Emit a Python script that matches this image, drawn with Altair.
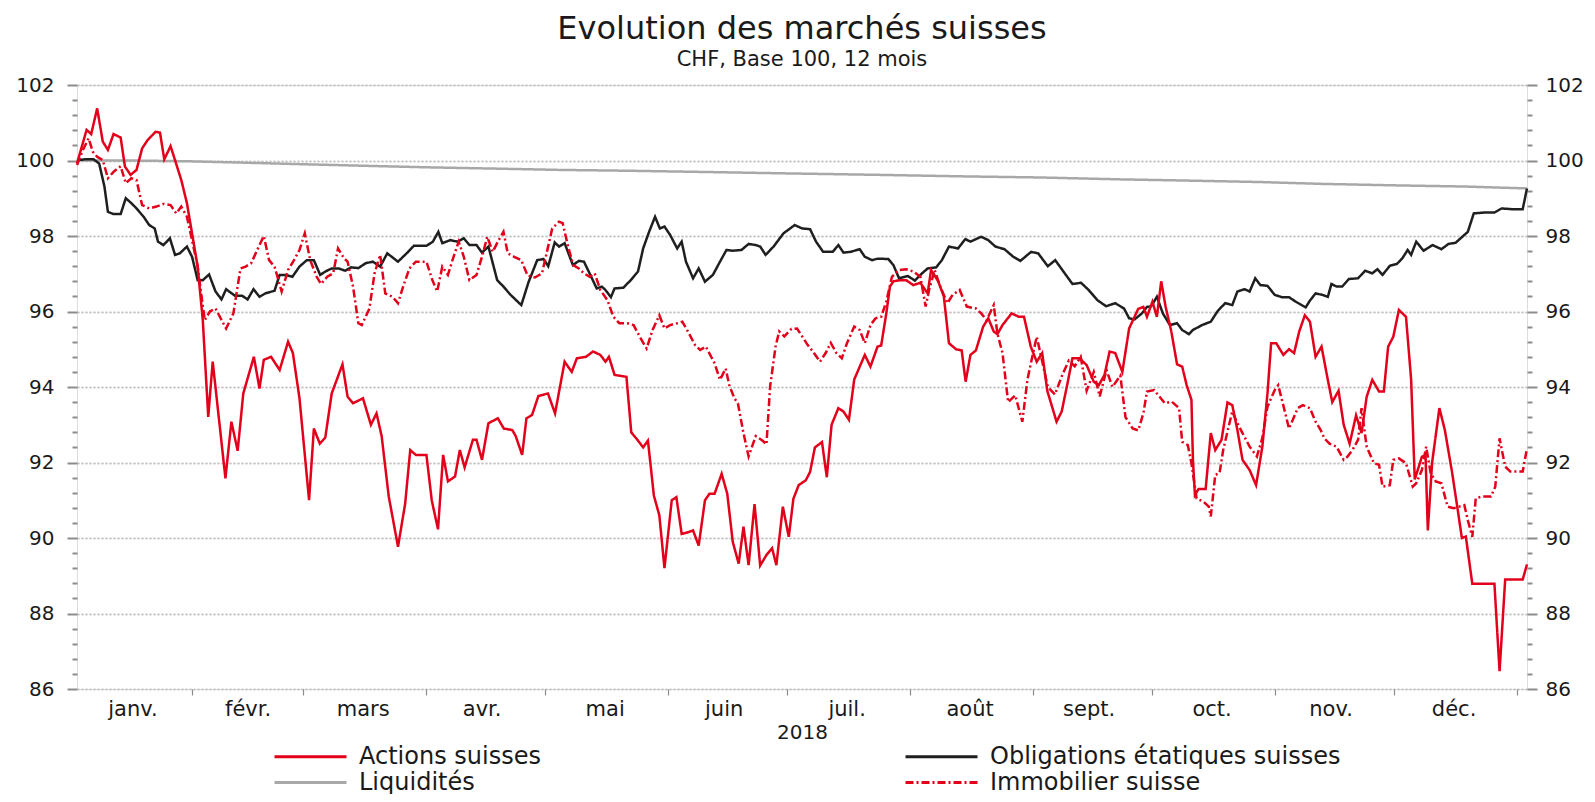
import altair as alt
import pandas as pd

FONT = "DejaVu Sans"
TXT = "#1a1a1a"

series_names = ["Actions suisses", "Obligations étatiques suisses", "Liquidités", "Immobilier suisse"]
series_colors = ["#e2001a", "#1f1f1f", "#a8a8a8", "#e2001a"]
series_dashes = [[1, 0], [1, 0], [1, 0], [8, 3, 2, 3]]
month_labels = ["janv.", "févr.", "mars", "avr.", "mai", "juin", "juil.", "août", "sept.", "oct.", "nov.", "déc."]

# days counted from 1 Jan 2018
act_days = [2.0, 4.4, 5.6, 7.1, 8.5, 9.8, 11.2, 13.0, 14.1, 15.5, 17.0, 18.4, 19.8, 21.8, 22.9, 24.0, 25.6, 26.7,
            28.3, 29.7, 31.0, 32.4, 33.7, 35.1, 36.2, 39.4, 40.9, 42.5, 43.9, 46.6, 48.0, 49.1, 50.9, 53.1, 55.2,
            56.4, 58.1, 60.5, 61.7, 63.2, 64.6, 66.2, 68.9, 70.2, 71.6, 74.1, 76.1, 77.5, 78.8, 80.6, 82.9, 84.7,
            86.0, 87.4, 90.1, 91.4, 93.0, 94.3, 95.5, 97.3, 98.5, 99.7, 101.8, 102.7, 104.1, 105.7, 108.1, 109.6,
            111.7, 112.6, 114.2, 115.3, 116.7, 118.3, 120.7, 122.5, 124.9, 126.7, 128.0, 130.3, 132.1, 133.9,
            135.2, 136.1, 137.5, 140.5, 141.7, 143.4, 144.7, 145.9, 147.4, 148.8, 150.1, 151.9, 153.1, 154.4,
            156.0, 157.3, 158.7, 160.3, 161.4, 162.7, 164.5, 165.9, 167.3, 168.8, 170.0, 171.3, 172.8, 174.2,
            175.8, 177.2, 178.3, 179.9, 181.4, 182.6, 183.9, 185.7, 186.8, 188.0, 189.8, 191.0, 192.2, 193.9,
            195.2, 196.6, 197.9, 200.6, 202.0, 203.8, 204.7, 206.0, 206.9, 207.8, 209.4, 211.0, 212.8, 214.6,
            216.4, 217.3, 219.1, 220.5, 221.8, 223.6, 225.0, 226.0, 227.2, 228.6, 230.4, 231.7, 233.1, 234.0,
            235.3, 237.6, 239.4, 240.7, 242.4, 243.9, 245.3, 246.6, 248.9, 250.2, 251.6, 252.9, 254.7, 256.5,
            258.3, 259.6, 261.0, 262.3, 263.7, 265.5, 267.2, 269.5, 270.8, 271.7, 273.1, 274.2, 275.3, 276.4,
            277.8, 279.3, 280.6, 281.7, 282.9, 283.3, 283.8, 284.7, 286.5, 287.8, 288.9, 290.5, 292.0, 293.2,
            294.5, 295.8, 297.6, 299.2, 300.8, 302.1, 303.0, 304.3, 306.1, 307.5, 308.8, 310.1, 311.5, 312.8,
            314.2, 315.7, 317.3, 318.4, 320.0, 321.3, 322.8, 324.4, 325.8, 327.1, 328.5, 330.2, 331.4, 332.5,
            333.8, 335.2, 337.0, 338.3, 339.2, 341.0, 341.9, 342.5, 343.6, 345.4, 346.8, 348.6, 349.9, 351.1,
            352.1, 353.7, 359.3, 360.6, 362.0, 366.4, 367.5]
act_vals = [99.92, 100.81, 100.70, 101.38, 100.50, 100.28, 100.70, 100.61, 99.84, 99.62, 99.75, 100.32, 100.54,
            100.76, 100.74, 100.03, 100.38, 100.01, 99.48, 98.87, 98.07, 97.19, 95.77, 93.21, 94.67, 91.58, 93.08,
            92.31, 93.83, 94.80, 93.96, 94.72, 94.80, 94.45, 95.20, 94.90, 93.70, 91.00, 92.90, 92.50, 92.66, 93.83,
            94.60, 93.74, 93.57, 93.70, 93.00, 93.30, 92.70, 91.10, 89.77, 90.90, 92.33, 92.20, 92.20, 91.00, 90.23,
            92.20, 91.50, 91.63, 92.33, 91.87, 92.60, 92.60, 92.07, 93.04, 93.17, 92.90, 92.86, 92.70, 92.20, 93.17,
            93.26, 93.76, 93.83, 93.30, 94.67, 94.40, 94.76, 94.80, 94.94, 94.85, 94.67, 94.80, 94.32, 94.27, 92.80,
            92.58, 92.40, 92.58, 91.12, 90.60, 89.20, 91.00, 91.08, 90.11, 90.15, 90.20, 89.80, 91.00, 91.17, 91.17,
            91.70, 91.17, 89.90, 89.32, 90.30, 89.28, 90.90, 89.27, 89.55, 89.73, 89.28, 90.83, 90.03, 91.04, 91.40,
            91.53, 91.75, 92.40, 92.54, 91.61, 93.00, 93.44, 93.35, 93.13, 94.20, 94.85, 94.54, 95.07, 95.10, 95.95,
            96.66, 96.80, 96.83, 96.83, 96.70, 96.76, 96.48, 97.10, 96.80, 96.40, 95.16, 95.00, 94.97, 94.14, 94.85,
            94.97, 95.60, 95.82, 95.47, 95.40, 95.64, 95.95, 95.86, 95.86, 95.07, 94.67, 94.90, 93.90, 93.08, 93.35,
            94.05, 94.76, 94.76, 94.58, 94.14, 94.05, 94.32, 94.94, 94.90, 94.40, 95.55, 96.07, 96.12, 95.86, 96.26,
            95.86, 96.80, 96.12, 95.50, 94.60, 94.54, 94.05, 93.66, 92.07, 91.14, 91.30, 91.30, 92.78, 92.33, 92.60,
            93.59, 93.52, 92.86, 92.07, 91.80, 91.40, 92.42, 93.83, 95.16, 95.16, 94.85, 95.00, 94.90, 95.47, 95.90,
            95.73, 94.80, 95.07, 94.19, 93.60, 93.90, 93.00, 92.50, 93.25, 92.78, 93.74, 94.19, 93.88, 93.88, 95.07,
            95.33, 96.04, 95.86, 94.20, 91.55, 92.15, 92.20, 90.20, 92.00, 93.44, 92.86, 91.76, 90.83, 90.00, 90.04,
            88.79, 88.79, 86.47, 88.90, 88.90, 89.30]

obl_days = [2.0, 4.0, 6.2, 7.6, 8.9, 9.8, 11.2, 13.0, 14.3, 15.7, 17.0, 18.8, 20.2, 21.6, 22.4, 23.8, 25.4, 26.7,
            27.9, 29.7, 31.0, 32.4, 33.7, 35.3, 36.9, 38.4, 39.6, 41.8, 43.6, 45.0, 46.5, 48.0, 49.5, 51.8, 53.1,
            54.5, 56.3, 58.1, 59.9, 61.7, 63.3, 64.8, 66.2, 68.0, 69.6, 71.1, 72.9, 74.8, 76.6, 78.4, 80.2, 82.9,
            85.1, 86.9, 90.1, 91.7, 93.1, 94.1, 96.1, 97.9, 99.5, 100.9, 102.7, 104.1, 105.7, 107.9, 109.5, 111.3,
            114.0, 115.8, 118.0, 119.6, 120.8, 122.4, 123.5, 124.9, 127.0, 128.5, 129.8, 131.2, 133.0, 134.3,
            135.2, 136.6, 137.5, 139.7, 141.6, 143.4, 144.7, 146.2, 147.7, 148.9, 150.1, 151.5, 153.3, 154.4,
            155.5, 157.3, 158.7, 160.3, 162.3, 164.1, 165.7, 167.3, 169.5, 171.3, 173.1, 174.2, 175.6, 177.6,
            180.1, 182.9, 184.8, 186.8, 188.3, 190.1, 192.5, 193.9, 195.2, 197.0, 199.3, 200.6, 202.4, 203.8,
            206.5, 207.8, 209.2, 211.4, 213.2, 215.0, 216.4, 218.6, 220.0, 221.8, 224.1, 225.9, 227.2, 229.9,
            231.7, 233.5, 235.8, 238.0, 239.8, 242.5, 244.3, 246.7, 248.6, 250.5, 252.9, 255.1, 257.0, 259.2,
            261.4, 263.7, 265.9, 267.2, 268.6, 270.4, 271.7, 272.8, 274.2, 275.7, 277.5, 279.3, 280.6, 282.3,
            283.3, 285.6, 287.8, 289.6, 291.4, 293.2, 294.5, 296.3, 297.6, 299.0, 300.3, 302.1, 303.9, 305.7,
            307.5, 309.2, 311.7, 312.8, 314.2, 315.9, 317.3, 318.2, 319.5, 320.9, 322.6, 324.9, 326.7, 328.5,
            329.8, 331.1, 332.9, 334.7, 336.1, 337.4, 338.3, 339.6, 341.4, 343.7, 345.9, 347.7, 349.5, 351.2,
            352.6, 354.1, 356.6, 359.3, 361.1, 363.8, 366.4, 367.5]
obl_vals = [100.01, 100.03, 100.03, 99.92, 99.31, 98.64, 98.58, 98.58, 99.00, 98.87, 98.73, 98.51, 98.29, 98.20,
            97.85, 97.76, 97.94, 97.50, 97.54, 97.72, 97.45, 96.83, 96.83, 96.98, 96.53, 96.32, 96.59, 96.42, 96.42,
            96.32, 96.59, 96.39, 96.48, 96.55, 96.97, 96.97, 96.92, 97.19, 97.36, 97.36, 96.97, 97.07, 97.14, 97.14,
            97.08, 97.17, 97.15, 97.28, 97.32, 97.19, 97.54, 97.32, 97.54, 97.74, 97.74, 97.85, 98.11, 97.81, 97.89,
            97.85, 97.94, 97.76, 97.76, 97.56, 97.72, 96.83, 96.66, 96.44, 96.17, 96.77, 97.36, 97.39, 97.20, 97.83,
            97.72, 97.81, 97.23, 97.34, 97.32, 97.01, 96.61, 96.66, 96.57, 96.38, 96.61, 96.63, 96.83, 97.06, 97.67,
            98.11, 98.51, 98.20, 98.25, 98.03, 97.67, 97.85, 97.32, 96.88, 97.14, 96.79, 96.97, 97.32, 97.63, 97.61,
            97.63, 97.79, 97.76, 97.72, 97.50, 97.72, 98.07, 98.29, 98.20, 98.18, 97.85, 97.58, 97.58, 97.76, 97.56,
            97.58, 97.65, 97.45, 97.36, 97.40, 97.39, 97.23, 96.88, 96.94, 96.82, 97.01, 97.14, 97.17, 97.36, 97.72,
            97.67, 97.92, 97.85, 97.98, 97.89, 97.72, 97.65, 97.45, 97.34, 97.58, 97.54, 97.20, 97.36, 97.08, 96.73,
            96.76, 96.57, 96.30, 96.14, 96.22, 96.08, 95.82, 95.79, 95.95, 96.12, 96.14, 96.39, 95.95, 95.64, 95.69,
            95.51, 95.40, 95.51, 95.64, 95.73, 96.02, 96.22, 96.17, 96.53, 96.59, 96.53, 96.88, 96.70, 96.68, 96.44,
            96.38, 96.38, 96.26, 96.11, 96.29, 96.48, 96.44, 96.39, 96.73, 96.66, 96.66, 96.86, 96.88, 97.08, 97.01,
            97.12, 96.97, 97.21, 97.26, 97.41, 97.63, 97.50, 97.85, 97.61, 97.76, 97.65, 97.79, 97.82, 97.98, 98.11,
            98.60, 98.62, 98.62, 98.73, 98.71, 98.71, 99.26]

liq_days = [2, 15, 30, 45, 63, 90, 110, 124, 140, 158, 180, 204, 225, 245, 265, 281, 300, 316, 335, 352, 367.5]
liq_vals = [100.0, 100.0, 99.98, 99.94, 99.89, 99.82, 99.78, 99.75, 99.73, 99.70, 99.66, 99.62, 99.58, 99.55,
            99.50, 99.47, 99.43, 99.38, 99.34, 99.31, 99.26]

imm_days = [2.0, 3.5, 4.9, 6.0, 7.1, 8.5, 9.8, 11.2, 13.0, 14.3, 15.7, 17.0, 18.4, 20.2, 22.0, 23.8, 25.6, 27.0,
            28.3, 29.7, 31.0, 32.4, 33.3, 34.2, 35.5, 36.9, 38.2, 39.6, 41.4, 43.2, 44.5, 45.9, 47.2, 49.1, 50.4,
            51.8, 53.6, 55.2, 56.7, 58.1, 59.4, 60.8, 62.4, 63.5, 65.1, 66.6, 67.8, 69.3, 70.2, 71.6, 72.9, 73.8,
            75.7, 77.0, 78.4, 79.7, 81.5, 82.9, 84.2, 85.8, 87.4, 90.1, 91.6, 92.8, 94.1, 95.5, 96.8, 98.2, 99.5,
            100.9, 102.7, 104.1, 105.4, 106.8, 108.1, 109.5, 110.6, 112.2, 114.0, 115.6, 117.4, 119.2, 120.5,
            121.8, 123.5, 124.4, 125.8, 127.1, 128.5, 129.8, 131.2, 132.5, 133.9, 135.7, 137.2, 138.7, 140.7,
            142.3, 144.1, 145.6, 147.1, 148.8, 150.1, 151.5, 153.3, 154.6, 156.0, 157.8, 159.1, 160.5, 162.7,
            164.1, 165.5, 166.4, 167.7, 168.6, 170.0, 171.3, 173.1, 174.9, 175.8, 176.7, 178.1, 179.0, 180.3,
            182.1, 183.5, 184.8, 186.2, 187.5, 189.3, 190.7, 192.0, 193.4, 194.8, 196.1, 197.9, 199.3, 200.6,
            202.0, 203.3, 204.7, 206.0, 207.4, 209.2, 211.0, 212.8, 214.6, 215.9, 216.8, 218.2, 219.6, 221.4,
            222.7, 224.5, 226.3, 228.6, 229.9, 231.3, 233.1, 234.0, 235.3, 236.7, 238.5, 240.3, 241.6, 243.0,
            243.9, 245.2, 246.7, 248.5, 250.3, 252.0, 253.5, 255.0, 256.5, 258.3, 259.8, 261.5, 263.0, 265.0,
            266.3, 268.1, 269.5, 270.8, 271.7, 273.5, 276.2, 278.0, 279.8, 280.6, 282.0, 282.9, 284.2, 286.0,
            287.3, 287.8, 288.9, 290.0, 290.9, 292.3, 293.2, 294.5, 295.8, 297.6, 299.4, 300.8, 302.1, 303.9,
            304.8, 306.6, 307.5, 308.8, 309.7, 311.0, 312.8, 314.2, 315.5, 316.4, 317.7, 319.5, 321.3, 322.2,
            323.5, 324.9, 325.8, 327.1, 328.9, 330.2, 331.1, 332.9, 333.8, 335.2, 337.0, 338.7, 339.6, 341.0,
            342.1, 343.2, 344.5, 345.9, 347.5, 349.0, 350.4, 351.7, 352.6, 353.7, 354.6, 356.2, 358.4, 359.5,
            360.6, 362.0, 363.3, 366.4, 367.5]
imm_vals = [99.88, 100.28, 100.59, 100.23, 100.10, 100.01, 99.53, 99.70, 99.85, 99.40, 99.53, 99.48, 98.82, 98.73,
            98.78, 98.85, 98.82, 98.60, 98.78, 98.51, 97.89, 97.19, 96.48, 95.77, 96.00, 96.08, 95.82, 95.55, 95.95,
            97.14, 97.19, 97.28, 97.58, 98.00, 97.36, 97.19, 96.53, 97.10, 97.36, 97.63, 98.07, 97.36, 96.92, 96.73,
            96.92, 97.01, 97.67, 97.41, 97.32, 96.66, 95.69, 95.64, 96.08, 97.01, 97.50, 96.48, 96.39, 96.22, 96.66,
            97.14, 97.32, 97.32, 96.83, 96.53, 97.19, 96.97, 97.41, 97.85, 97.45, 96.83, 96.97, 97.45, 97.98, 97.58,
            97.85, 98.11, 97.54, 97.45, 97.36, 96.95, 96.90, 97.01, 97.60, 98.20, 98.38, 98.34, 97.72, 97.23, 97.14,
            97.01, 96.92, 97.01, 96.57, 96.30, 95.86, 95.69, 95.69, 95.64, 95.29, 95.02, 95.51, 95.90, 95.55, 95.64,
            95.69, 95.73, 95.47, 95.11, 94.98, 95.07, 94.63, 94.19, 94.49, 94.05, 93.70, 93.57, 92.78, 92.16, 92.70,
            92.57, 92.48, 94.01, 95.07, 95.47, 95.34, 95.54, 95.55, 95.34, 95.11, 94.94, 94.67, 94.90, 95.17, 94.90,
            94.76, 95.16, 95.60, 95.51, 95.16, 95.64, 95.82, 95.86, 96.26, 96.92, 97.10, 97.12, 97.06, 96.92, 96.13,
            96.57, 97.10, 96.66, 96.22, 96.44, 96.57, 96.13, 96.08, 95.95, 95.77, 96.17, 95.42, 94.90, 93.60, 93.78,
            93.08, 94.20, 94.90, 95.33, 94.72, 94.00, 93.80, 94.30, 94.70, 94.55, 94.80, 93.90, 94.40, 93.75, 94.45,
            94.00, 94.30, 93.20, 92.90, 92.85, 93.30, 93.88, 93.92, 93.57, 93.61, 93.44, 92.55, 92.46, 91.98, 91.05,
            90.96, 90.83, 90.57, 91.67, 91.72, 92.33, 92.95, 93.35, 93.04, 92.78, 92.42, 92.16, 92.65, 93.48, 93.92,
            94.05, 93.30, 92.90, 93.21, 93.44, 93.52, 93.44, 93.08, 92.86, 92.64, 92.50, 92.42, 92.07, 92.15, 92.33,
            92.60, 93.44, 92.42, 91.98, 91.94, 91.36, 91.40, 92.07, 92.11, 91.98, 91.36, 91.45, 91.80, 92.42, 91.72,
            91.50, 91.45, 90.83, 90.79, 90.83, 90.87, 90.47, 90.03, 91.05, 91.10, 91.10, 91.36, 92.64, 91.89, 91.76,
            91.76, 92.38]

base_day = pd.Timestamp("2018-01-01")


def frame(name, days, vals):
    dates = base_day + pd.to_timedelta([round(d * 24) for d in days], unit="h")
    return pd.DataFrame({"date": dates, "value": vals, "series": name})


# drawing order: bottom to top
df = pd.concat([
    frame("Liquidités", liq_days, liq_vals),
    frame("Obligations étatiques suisses", obl_days, obl_vals),
    frame("Immobilier suisse", imm_days, imm_vals),
    frame("Actions suisses", act_days, act_vals),
], ignore_index=True)
df_act = frame("Actions suisses", act_days, act_vals)

# axis tick values
y_ticks = [round(86 + 0.4 * i, 1) for i in range(41)]
x_ticks = [alt.DateTime(year=2018, month=m, date=1) for m in range(2, 13)] + \
          [alt.DateTime(year=2019, month=1, date=1)] + \
          [alt.DateTime(year=2018, month=m, date=d) for m, d in
           zip(range(1, 13), [17, 15, 16, 15, 16, 15, 16, 16, 15, 16, 15, 16])]

month_js = "[" + ",".join("'" + m + "'" for m in month_labels) + "]"
major = "round(datum.value*10) % 20 == 0"

x_scale = alt.Scale(domain=[alt.DateTime(year=2018, month=1, date=3),
                            alt.DateTime(year=2019, month=1, date=3, hours=12)])
y_scale = alt.Scale(domain=[86, 102], nice=False, zero=False)

x_axis = alt.Axis(values=x_ticks, title="2018", domain=False, grid=False,
                  labelExpr=f"date(datum.value) == 1 ? '' : {month_js}[month(datum.value)]",
                  tickOpacity={"condition": {"test": "date(datum.value) == 1", "value": 1}, "value": 0},
                  tickSize=6, tickColor="#8c8c8c", tickWidth=1.2,
                  labelFont=FONT, labelFontSize=21, labelColor=TXT, labelPadding=3,
                  labelOverlap=False, labelFlush=False,
                  titleFont=FONT, titleFontSize=20, titleFontWeight="normal", titleColor=TXT, titlePadding=3)


def y_axis(orient, pad):
    return alt.Axis(orient=orient, values=y_ticks, title=None, domain=False,
                    labelExpr=f"{major} ? format(datum.value, 'd') : ''",
                    tickSize={"condition": {"test": major, "value": 10}, "value": 5},
                    gridOpacity={"condition": {"test": major, "value": 1}, "value": 0},
                    grid=True, gridColor="#c4c4c4", gridDash=[2, 2], gridWidth=1.4,
                    tickColor="#8c8c8c", tickWidth=2,
                    labelFont=FONT, labelFontSize=20, labelColor=TXT, labelPadding=pad,
                    labelOverlap=False)


# a short horizontal path drawn 3x wider than the nominal symbol box
legend = alt.Legend(orient="none", legendX=220, legendY=658, direction="horizontal", columns=2,
                    symbolType="M-3,0H3", symbolSize=576, symbolStrokeWidth=3,
                    labelFont=FONT, labelFontSize=24, labelColor=TXT, labelOffset=35, labelLimit=0,
                    columnPadding=358, rowPadding=0, padding=0)

lines = alt.Chart(df).mark_line(strokeWidth=2.5).encode(
    x=alt.X("date:T", scale=x_scale, axis=x_axis),
    y=alt.Y("value:Q", scale=y_scale, axis=y_axis("left", 13)),
    color=alt.Color("series:N", scale=alt.Scale(domain=series_names, range=series_colors),
                    legend=legend, title=None),
    strokeDash=alt.StrokeDash("series:N", scale=alt.Scale(domain=series_names, range=series_dashes),
                              legend=legend, title=None),
)

right = alt.Chart(df_act).mark_line(opacity=0).encode(
    x=alt.X("date:T", scale=x_scale, axis=x_axis),
    y=alt.Y("value:Q", scale=y_scale, axis=y_axis("right", 8)),
)

chart = alt.layer(lines, right).resolve_scale(y="independent").properties(
    width=1450, height=604,
    autosize=alt.AutoSizeParams(type="none"),
    padding={"left": 69, "top": 77, "right": 60, "bottom": 105},
    title=alt.TitleParams(text="Evolution des marchés suisses", subtitle="CHF, Base 100, 12 mois",
                          font=FONT, fontSize=32, fontWeight="normal", color=TXT,
                          subtitleFont=FONT, subtitleFontSize=21, subtitleColor=TXT,
                          subtitlePadding=3, offset=4, anchor="middle", frame="group"),
).configure_view(stroke=None).configure(background="white")

chart.save("out.html", embed_options={"renderer": "svg", "actions": False})
